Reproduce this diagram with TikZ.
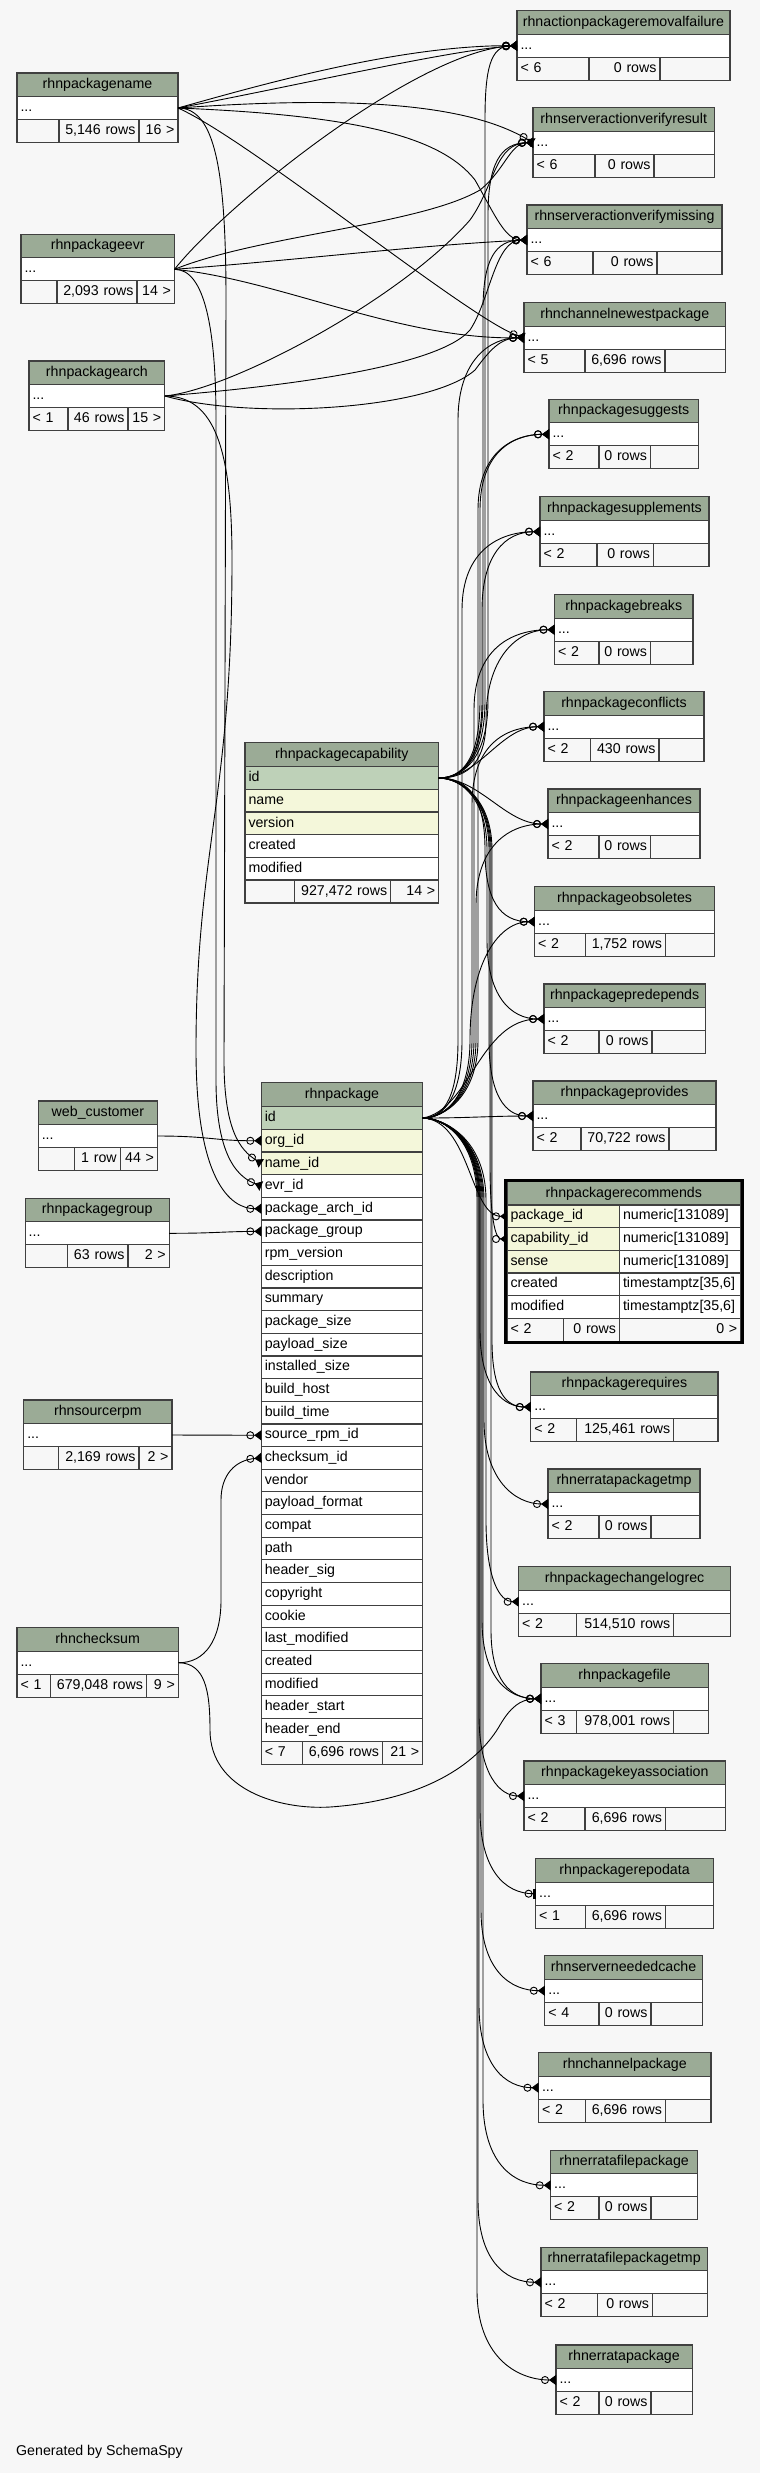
\documentclass[tikz,border=0pt]{standalone}
\usepackage{fontspec}
\setmainfont{Liberation Sans}
\usepackage{tikz}
\usetikzlibrary{arrows.meta,positioning,fit}

\definecolor{hdrgreen}{HTML}{9BAB96}
\definecolor{pkgreen}{HTML}{BED1B8}
\definecolor{idxyellow}{HTML}{F4F7DA}
\definecolor{bggray}{HTML}{F7F7F7}

\newcommand{\tblfont}{\fontsize{14.2pt}{17pt}\selectfont}

% small table: name, left, top, 1st split, 2nd split, right, footer texts
\newcommand{\minitable}[9]{%
  \pgfmathsetlengthmacro\tblwide{#6-#2}%
  \pgfmathsetlengthmacro\tbltext{#6-#2-7}%
  \pgfmathsetlengthmacro\tblwa{#4-#2-7}%
  \pgfmathsetlengthmacro\tblwb{#5-#4-7}%
  \pgfmathsetlengthmacro\tblwc{#6-#5-7}%
  \node (#1) [tblhead, minimum width=\tblwide, anchor=north west] at (#2,#3) {\detokenize{#1}};
  \node (#1-r) [tblrow, text width=\tbltext, below=of #1] {...};
  \node (#1-a) [tblfoot, text width=\tblwa, align=left, below right=of #1-r.south west] {#7};
  \node (#1-b) [tblfoot, text width=\tblwb, align=right, right=of #1-a] {#8};
  \node (#1-c) [tblfoot, text width=\tblwc, align=right, right=of #1-b] {#9};
}

\begin{document}
\begin{tikzpicture}[x=1pt, y=-1pt, node distance=0pt and 0pt,
    tblcell/.style={rectangle, draw=black!75, line width=1.1pt, outer sep=0pt, inner xsep=3.5pt, inner ysep=0pt,
      text height=10.3pt, text depth=3pt, font=\tblfont},
    tblhead/.style={tblcell, fill=hdrgreen, minimum height=23.5pt},
    tblrow/.style={tblcell, fill=white, minimum height=23pt, align=left},
    tblfoot/.style={tblcell, minimum height=23pt},
    bigrow/.style={tblcell, minimum height=22.66pt, align=left},
    pkrow/.style={bigrow, fill=pkgreen},
    idxrow/.style={bigrow, fill=idxyellow},
    plainrow/.style={bigrow, fill=white},
    capw/.style={text width=186.7pt},
    pkgw/.style={text width=154.4pt},
    recl/.style={text width=105.5pt},
    recr/.style={text width=114.2pt},
    fk/.style={line width=0.9pt, -{Circle[open,length=8pt,width=8pt] Triangle[reversed,length=7pt,width=10pt]}},
    fkone/.style={line width=0.9pt, -{Circle[open,length=8pt,width=8pt] Bar[width=10pt,line width=3pt]}},
  ]

  \fill[bggray] (0,0) rectangle (760,2473);
  \useasboundingbox (0,0) rectangle (760,2473);

  % parents on the left
  \minitable{rhnpackagename}{17}{73}{59}{139}{178}{}{5,146 rows}{16 >}
  \minitable{rhnpackageevr}{21}{234.3}{57}{137}{174.5}{}{2,093 rows}{14 >}
  \minitable{rhnpackagearch}{29}{361}{68}{128}{164.8}{< 1}{46 rows}{15 >}
  \minitable{web_customer}{38.3}{1101}{74.6}{120.2}{157.5}{}{1 row}{44 >}
  \minitable{rhnpackagegroup}{25.2}{1198.3}{67.9}{128}{169.2}{}{63 rows}{2 >}
  \minitable{rhnsourcerpm}{23.75}{1400}{58.7}{139}{172}{}{2,169 rows}{2 >}
  \minitable{rhnchecksum}{17}{1627.7}{50.4}{146.4}{178.4}{< 1}{679,048 rows}{9 >}

  % children on the right
  \minitable{rhnactionpackageremovalfailure}{517}{10.7}{589}{660}{730}{< 6}{0 rows}{}
  \minitable{rhnserveractionverifyresult}{533}{107.7}{595}{654}{714.5}{< 6}{0 rows}{}
  \minitable{rhnserveractionverifymissing}{527}{205}{593}{657}{722}{< 6}{0 rows}{}
  \minitable{rhnchannelnewestpackage}{524}{302.7}{585}{665}{725.6}{< 5}{6,696 rows}{}
  \minitable{rhnpackagesuggests}{549}{399.3}{599}{650.5}{698.5}{< 2}{0 rows}{}
  \minitable{rhnpackagesupplements}{540}{496.7}{597}{653.4}{709}{< 2}{0 rows}{}
  \minitable{rhnpackagebreaks}{554.5}{594.7}{599}{650.5}{693}{< 2}{0 rows}{}
  \minitable{rhnpackageconflicts}{544}{691.7}{590.4}{659}{704}{< 2}{430 rows}{}
  \minitable{rhnpackageenhances}{548}{789}{599}{650.5}{700}{< 2}{0 rows}{}
  \minitable{rhnpackageobsoletes}{534.7}{886.7}{585.6}{665.5}{714.5}{< 2}{1,752 rows}{}
  \minitable{rhnpackagepredepends}{544}{984}{599}{652}{705.3}{< 2}{0 rows}{}
  \minitable{rhnpackageprovides}{533}{1081}{581}{669}{716}{< 2}{70,722 rows}{}
  \minitable{rhnpackagerequires}{530.8}{1372}{576.8}{673.8}{718}{< 2}{125,461 rows}{}
  \minitable{rhnerratapackagetmp}{548}{1469}{599}{651}{700}{< 2}{0 rows}{}
  \minitable{rhnpackagechangelogrec}{518.7}{1566.7}{576.8}{673.8}{730.5}{< 2}{514,510 rows}{}
  \minitable{rhnpackagefile}{541}{1663.7}{576.8}{673.8}{708.2}{< 3}{978,001 rows}{}
  \minitable{rhnpackagekeyassociation}{524}{1761}{585}{665.5}{725.6}{< 2}{6,696 rows}{}
  \minitable{rhnpackagerepodata}{535.6}{1858.7}{585.6}{665.5}{713.5}{< 1}{6,696 rows}{}
  \minitable{rhnserverneededcache}{544.8}{1955.7}{599}{651}{702.4}{< 4}{0 rows}{}
  \minitable{rhnchannelpackage}{538.5}{2052.7}{585.6}{665.5}{711}{< 2}{6,696 rows}{}
  \minitable{rhnerratafilepackage}{550.7}{2150.3}{599}{651}{697.5}{< 2}{0 rows}{}
  \minitable{rhnerratafilepackagetmp}{541}{2247.3}{597.7}{652.4}{707.2}{< 2}{0 rows}{}
  \minitable{rhnerratapackage}{556}{2345}{599}{651}{692.2}{< 2}{0 rows}{}

  % rhnpackagecapability
  \node (rhnpackagecapability) [tblhead, minimum width=193.7pt, minimum height=24.4pt, anchor=north west] at (245,742.3) {rhnpackagecapability};
  \node (cap-id)       [pkrow, capw, below=of rhnpackagecapability] {id};
  \node (cap-name)     [idxrow, capw, below=of cap-id] {name};
  \node (cap-version)  [idxrow, capw, below=of cap-name] {version};
  \node (cap-created)  [plainrow, capw, below=of cap-version] {created};
  \node (cap-modified) [plainrow, capw, below=of cap-created] {modified};
  \node (cap-a) [tblfoot, text width=42.7pt, below right=of cap-modified.south west] {};
  \node (cap-b) [tblfoot, text width=89pt, align=right, right=of cap-a] {927,472 rows};
  \node (cap-c) [tblfoot, text width=41pt, align=right, right=of cap-b] {14 >};

  % rhnpackage
  \node (rhnpackage) [tblhead, minimum width=161.4pt, minimum height=24pt, anchor=north west] at (261.3,1082.7) {rhnpackage};
  \node (pk-id)            [pkrow, pkgw, below=of rhnpackage] {id};
  \node (pk-orgid)         [idxrow, pkgw, below=of pk-id] {org\_id};
  \node (pk-nameid)        [idxrow, pkgw, below=of pk-orgid] {name\_id};
  \node (pk-evrid)         [plainrow, pkgw, below=of pk-nameid] {evr\_id};
  \node (pk-archid)        [plainrow, pkgw, below=of pk-evrid] {package\_arch\_id};
  \node (pk-group)         [plainrow, pkgw, below=of pk-archid] {package\_group};
  \node (pk-rpmversion)    [plainrow, pkgw, below=of pk-group] {rpm\_version};
  \node (pk-description)   [plainrow, pkgw, below=of pk-rpmversion] {description};
  \node (pk-summary)       [plainrow, pkgw, below=of pk-description] {summary};
  \node (pk-packagesize)   [plainrow, pkgw, below=of pk-summary] {package\_size};
  \node (pk-payloadsize)   [plainrow, pkgw, below=of pk-packagesize] {payload\_size};
  \node (pk-installedsize) [plainrow, pkgw, below=of pk-payloadsize] {installed\_size};
  \node (pk-buildhost)     [plainrow, pkgw, below=of pk-installedsize] {build\_host};
  \node (pk-buildtime)     [plainrow, pkgw, below=of pk-buildhost] {build\_time};
  \node (pk-sourcerpmid)   [plainrow, pkgw, below=of pk-buildtime] {source\_rpm\_id};
  \node (pk-checksumid)    [plainrow, pkgw, below=of pk-sourcerpmid] {checksum\_id};
  \node (pk-vendor)        [plainrow, pkgw, below=of pk-checksumid] {vendor};
  \node (pk-payloadformat) [plainrow, pkgw, below=of pk-vendor] {payload\_format};
  \node (pk-compat)        [plainrow, pkgw, below=of pk-payloadformat] {compat};
  \node (pk-path)          [plainrow, pkgw, below=of pk-compat] {path};
  \node (pk-headersig)     [plainrow, pkgw, below=of pk-path] {header\_sig};
  \node (pk-copyright)     [plainrow, pkgw, below=of pk-headersig] {copyright};
  \node (pk-cookie)        [plainrow, pkgw, below=of pk-copyright] {cookie};
  \node (pk-lastmodified)  [plainrow, pkgw, below=of pk-cookie] {last\_modified};
  \node (pk-created)       [plainrow, pkgw, below=of pk-lastmodified] {created};
  \node (pk-modified)      [plainrow, pkgw, below=of pk-created] {modified};
  \node (pk-headerstart)   [plainrow, pkgw, below=of pk-modified] {header\_start};
  \node (pk-headerend)     [plainrow, pkgw, below=of pk-headerstart] {header\_end};
  \node (pk-a) [tblfoot, text width=34.2pt, align=left, below right=of pk-headerend.south west] {< 7};
  \node (pk-b) [tblfoot, text width=73pt, align=right, right=of pk-a] {6,696 rows};
  \node (pk-c) [tblfoot, text width=33.2pt, align=right, right=of pk-b] {21 >};

  % rhnpackagerecommends (the focus table)
  \node (rhnpackagerecommends) [tblhead, minimum width=233.7pt, minimum height=23.3pt, anchor=north west] at (507,1181.7) {rhnpackagerecommends};
  \node (rec-pkgid)    [idxrow, recl, below right=of rhnpackagerecommends.south west] {package\_id};
  \node (rec-pkgid-t)  [plainrow, recr, right=of rec-pkgid] {numeric[131089]};
  \node (rec-capid)    [idxrow, recl, below=of rec-pkgid] {capability\_id};
  \node (rec-capid-t)  [plainrow, recr, right=of rec-capid] {numeric[131089]};
  \node (rec-sense)    [idxrow, recl, below=of rec-capid] {sense};
  \node (rec-sense-t)  [plainrow, recr, right=of rec-sense] {numeric[131089]};
  \node (rec-created)  [plainrow, recl, below=of rec-sense] {created};
  \node (rec-created-t)[plainrow, recr, right=of rec-created] {timestamptz[35,6]};
  \node (rec-modified) [plainrow, recl, below=of rec-created] {modified};
  \node (rec-modified-t)[plainrow, recr, right=of rec-modified] {timestamptz[35,6]};
  \node (rec-a) [tblfoot, text width=49.7pt, align=left, below right=of rec-modified.south west] {< 2};
  \node (rec-b) [tblfoot, text width=48.8pt, align=right, right=of rec-a] {0 rows};
  \node (rec-c) [tblfoot, recr, align=right, right=of rec-b] {0 >};
  \node (rec-frame) [fit=(rhnpackagerecommends)(rec-c), draw=black, line width=3pt, inner sep=1.5pt] {};

  \node (credit) [font=\tblfont, anchor=base west, inner sep=0pt] at (16,2455) {Generated by SchemaSpy};

  % name, evr, arch
  \draw[fk] (rhnpackagename-r.east) .. controls (260,85) and (400,45) .. (rhnactionpackageremovalfailure-r.west);
  \draw[fk] (rhnpackagename-r.east) .. controls (300,85) and (450,50) .. (rhnactionpackageremovalfailure-r.west);
  \draw[fk] (rhnpackagename-r.east) .. controls (360,95) and (470,105) .. (rhnserveractionverifyresult-r.west);
  \draw[fk] (rhnpackagename-r.east) .. controls (350,115) and (440,135) .. (475,180) .. controls (495,215) and (505,240) .. (rhnserveractionverifymissing-r.west);
  \draw[fk] (rhnpackagename-r.east) .. controls (250,140) and (470,320) .. (rhnchannelnewestpackage-r.west);
  \draw[fk] (rhnpackagename-r.east) .. controls (215,108) and (226,170) .. (226,300) -- (224,1060) .. controls (224,1130) and (240,1150) .. (pk-nameid.west);

  \draw[fk] (rhnpackageevr-r.east) .. controls (230,200) and (420,50) .. (rhnactionpackageremovalfailure-r.west);
  \draw[fk] (rhnpackageevr-r.east) .. controls (260,235) and (420,225) .. (480,190) .. controls (505,170) and (510,143) .. (rhnserveractionverifyresult-r.west);
  \draw[fk] (rhnpackageevr-r.east) .. controls (300,260) and (420,245) .. (rhnserveractionverifymissing-r.west);
  \draw[fk] (rhnpackageevr-r.east) .. controls (280,280) and (400,340) .. (rhnchannelnewestpackage-r.west);
  \draw[fk] (rhnpackageevr-r.east) .. controls (205,269) and (216,330) .. (216,420) -- (216,1080) .. controls (216,1160) and (240,1178) .. (pk-evrid.west);

  \draw[fk] (rhnpackagearch-r.east) .. controls (230,390) and (400,300) .. (470,220) .. controls (495,185) and (495,143) .. (rhnserveractionverifyresult-r.west);
  \draw[fk] (rhnpackagearch-r.east) .. controls (300,385) and (440,365) .. (470,330) .. controls (490,300) and (495,240) .. (rhnserveractionverifymissing-r.west);
  \draw[fk] (rhnpackagearch-r.east) .. controls (250,420) and (430,410) .. (475,370) .. controls (490,350) and (500,338) .. (rhnchannelnewestpackage-r.west);
  \draw[fk] (rhnpackagearch-r.east) .. controls (215,396) and (232,450) .. (232,560) .. controls (232,800) and (196,850) .. (196,1050) .. controls (196,1180) and (230,1209) .. (pk-archid.west);

  % other parents of rhnpackage
  \draw[fk] (web_customer-r.east) .. controls (210,1136) and (215,1141) .. (pk-orgid.west);
  \draw[fk] (rhnpackagegroup-r.east) .. controls (215,1233.3) and (220,1231.6) .. (pk-group.west);
  \draw[fk] (rhnsourcerpm-r.east) -- (pk-sourcerpmid.west);
  \draw[fk] (rhnchecksum-r.east) .. controls (205,1663) and (221,1640) .. (221,1600) -- (221,1500) .. controls (221,1475) and (235,1460) .. (pk-checksumid.west);
  \draw[fk] (rhnchecksum-r.east) .. controls (205,1663) and (210,1690) .. (210,1730) .. controls (210,1790) and (280,1810) .. (330,1807) .. controls (430,1800) and (480,1760) .. (500,1725) .. controls (510,1708) and (520,1699) .. (rhnpackagefile-r.west);

  % rhnpackagecapability.id
  \draw[fk] (cap-id.east) .. controls (462,778) and (485,760) .. (485,700) -- (485,120) .. controls (485,70) and (490,45.7) .. (rhnactionpackageremovalfailure-r.west);
  \draw[fk] (cap-id.east) .. controls (462,778) and (488,760) .. (488,700) -- (488,215) .. controls (488,165) and (500,142.7) .. (rhnserveractionverifyresult-r.west);
  \draw[fk] (cap-id.east) .. controls (462,778) and (483,760) .. (483,700) -- (483,310) .. controls (483,260) and (495,240) .. (rhnserveractionverifymissing-r.west);
  \draw[fk] (cap-id.east) .. controls (462,778) and (480,760) .. (480,700) -- (480,510) .. controls (480,455) and (510,434.3) .. (rhnpackagesuggests-r.west);
  \draw[fk] (cap-id.east) .. controls (462,778) and (482,760) .. (482,700) -- (482,610) .. controls (482,555) and (505,531.7) .. (rhnpackagesupplements-r.west);
  \draw[fk] (cap-id.east) .. controls (470,778) and (486,760) .. (486,720) .. controls (486,660) and (515,629.7) .. (rhnpackagebreaks-r.west);
  \draw[fk] (cap-id.east) .. controls (480,778) and (500,726.7) .. (rhnpackageconflicts-r.west);
  \draw[fk] (cap-id.east) .. controls (480,778) and (505,824) .. (rhnpackageenhances-r.west);
  \draw[fk] (cap-id.east) .. controls (470,778) and (485,800) .. (485,850) .. controls (485,900) and (500,921.7) .. (rhnpackageobsoletes-r.west);
  \draw[fk] (cap-id.east) .. controls (462,778) and (487,800) .. (487,850) -- (487,940) .. controls (487,995) and (510,1019) .. (rhnpackagepredepends-r.west);
  \draw[fk] (cap-id.east) .. controls (462,778) and (489,800) .. (489,850) -- (489,1040) .. controls (489,1095) and (505,1116) .. (rhnpackageprovides-r.west);
  \draw[fk] (cap-id.east) .. controls (462,778) and (490,800) .. (490,850) -- (490,1165) .. controls (490,1215) and (495,1239) .. (rec-capid.west);
  \draw[fk] (cap-id.east) .. controls (462,778) and (492,800) .. (492,850) -- (492,1340) .. controls (492,1390) and (505,1407) .. (rhnpackagerequires-r.west);
  \draw[fk] (cap-id.east) .. controls (462,778) and (491,800) .. (491,850) -- (491,1630) .. controls (491,1680) and (510,1698.7) .. (rhnpackagefile-r.west);

  % rhnpackage.id, upwards
  \draw[fk] (pk-id.east) .. controls (445,1118) and (458,1095) .. (458,1040) -- (458,420) .. controls (458,360) and (490,337.7) .. (rhnchannelnewestpackage-r.west);
  \draw[fk] (pk-id.east) .. controls (445,1118) and (478,1095) .. (478,1040) -- (478,510) .. controls (478,455) and (510,434.3) .. (rhnpackagesuggests-r.west);
  \draw[fk] (pk-id.east) .. controls (445,1118) and (462,1095) .. (462,1040) -- (462,610) .. controls (462,550) and (500,531.7) .. (rhnpackagesupplements-r.west);
  \draw[fk] (pk-id.east) .. controls (445,1118) and (474,1095) .. (474,1040) -- (474,710) .. controls (474,650) and (510,629.7) .. (rhnpackagebreaks-r.west);
  \draw[fk] (pk-id.east) .. controls (445,1118) and (472,1095) .. (472,1040) -- (472,805) .. controls (472,745) and (505,726.7) .. (rhnpackageconflicts-r.west);
  \draw[fk] (pk-id.east) .. controls (445,1118) and (476,1095) .. (476,1040) -- (476,905) .. controls (476,845) and (510,824) .. (rhnpackageenhances-r.west);
  \draw[fk] (pk-id.east) .. controls (450,1118) and (470,1090) .. (470,1040) .. controls (470,960) and (500,921.7) .. (rhnpackageobsoletes-r.west);
  \draw[fk] (pk-id.east) .. controls (470,1110) and (480,1019) .. (rhnpackagepredepends-r.west);
  \draw[fk] (pk-id.east) .. controls (470,1118) and (490,1116) .. (rhnpackageprovides-r.west);
  \draw[fk] (pk-id.east) .. controls (470,1120) and (470,1216.3) .. (rec-pkgid.west);

  % rhnpackage.id, downwards
  \draw[fk] (pk-id.east) .. controls (445,1118) and (480,1140) .. (480,1200) -- (480,1330) .. controls (480,1390) and (505,1407) .. (rhnpackagerequires-r.west);
  \draw[fk] (pk-id.east) .. controls (445,1118) and (484,1140) .. (484,1200) -- (484,1420) .. controls (484,1480) and (515,1504) .. (rhnerratapackagetmp-r.west);
  \draw[fk] (pk-id.east) .. controls (445,1118) and (486,1140) .. (486,1200) -- (486,1520) .. controls (486,1580) and (500,1601.7) .. (rhnpackagechangelogrec-r.west);
  \draw[fk] (pk-id.east) .. controls (445,1118) and (482,1140) .. (482,1200) -- (482,1620) .. controls (482,1680) and (510,1698.7) .. (rhnpackagefile-r.west);
  \draw[fk] (pk-id.east) .. controls (445,1118) and (479,1140) .. (479,1200) -- (479,1715) .. controls (479,1775) and (500,1796) .. (rhnpackagekeyassociation-r.west);
  \draw[fkone] (pk-id.east) .. controls (445,1118) and (480,1140) .. (480,1200) -- (480,1810) .. controls (480,1870) and (505,1893.7) .. (rhnpackagerepodata-r.west);
  \draw[fk] (pk-id.east) .. controls (445,1118) and (481,1140) .. (481,1200) -- (481,1910) .. controls (481,1970) and (510,1990.7) .. (rhnserverneededcache-r.west);
  \draw[fk] (pk-id.east) .. controls (445,1118) and (479,1140) .. (479,1200) -- (479,2005) .. controls (479,2065) and (505,2087.7) .. (rhnchannelpackage-r.west);
  \draw[fk] (pk-id.east) .. controls (445,1118) and (483,1140) .. (483,1200) -- (483,2100) .. controls (483,2165) and (515,2185.3) .. (rhnerratafilepackage-r.west);
  \draw[fk] (pk-id.east) .. controls (445,1118) and (478,1140) .. (478,1200) -- (478,2200) .. controls (478,2260) and (505,2282.3) .. (rhnerratafilepackagetmp-r.west);
  \draw[fk] (pk-id.east) .. controls (445,1118) and (477,1140) .. (477,1200) -- (477,2290) .. controls (477,2355) and (515,2380) .. (rhnerratapackage-r.west);
\end{tikzpicture}
\end{document}
